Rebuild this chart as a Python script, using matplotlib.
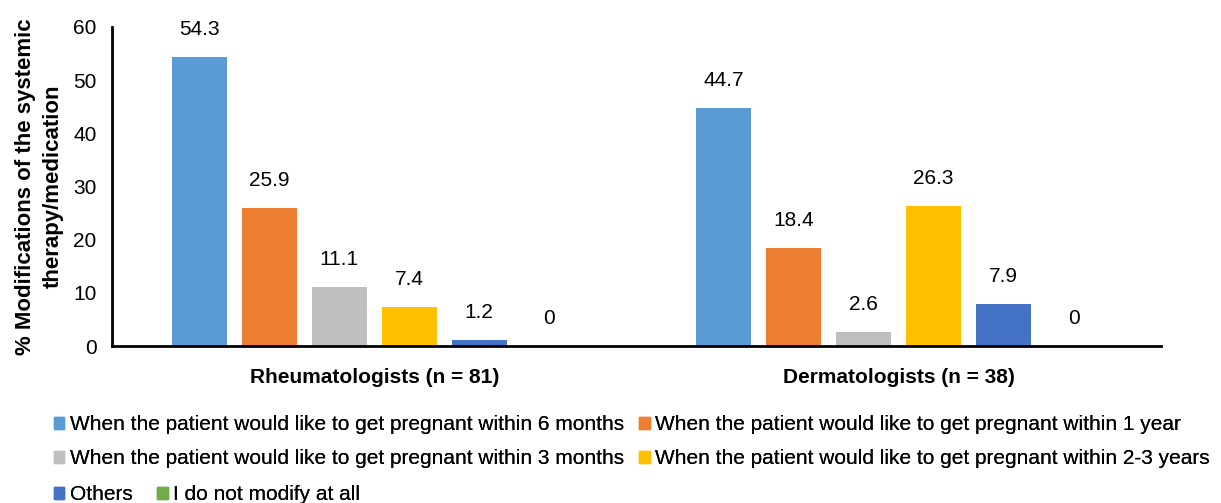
import numpy as np
import matplotlib
matplotlib.use('Agg')
import matplotlib.pyplot as plt
from matplotlib.patches import Patch

plt.rcParams['font.family'] = ['Liberation Sans', 'DejaVu Sans']

groups = ['Rheumatologists (n = 81)', 'Dermatologists (n = 38)']
series = ['When the patient would like to get pregnant within 6 months',
          'When the patient would like to get pregnant within 1 year',
          'When the patient would like to get pregnant within 3 months',
          'When the patient would like to get pregnant within 2-3 years',
          'Others',
          'I do not modify at all']
values = [[54.3, 44.7],
          [25.9, 18.4],
          [11.1, 2.6],
          [7.4, 26.3],
          [1.2, 7.9],
          [0, 0]]
colors = ['#5B9BD5', '#ED7D31', '#BFBFBF', '#FFC000', '#4472C4', '#70AD47']
yticks = [0, 10, 20, 30, 40, 50, 60]

FS = 15
fig = plt.figure(figsize=(12.21, 5.03), dpi=100)
ax = fig.add_axes([112/1221, 1-346/503, (1161-112)/1221, (346-27)/503])

x = np.arange(len(groups))
w = 55/524.5
pitch = 70/524.5
n = len(series)
for i in range(n):
    off = (i - (n-1)/2) * pitch
    bars = ax.bar(x + off, values[i], width=w, color=colors[i], label=series[i])
    for b, v in zip(bars, values[i]):
        ax.annotate('%g' % v, (b.get_x() + b.get_width()/2, v),
                    xytext=(0, 13), textcoords='offset points',
                    ha='center', va='bottom', fontsize=FS)

ax.set_xlim(-0.5, 1.5)
ax.set_ylim(0, 60)
ax.set_yticks(yticks)
ax.set_xticks(x)
ax.set_xticklabels(groups, fontsize=17, fontweight='bold')
ax.tick_params(axis='both', length=0, labelsize=FS)
ax.tick_params(axis='x', pad=16)
ax.tick_params(axis='y', pad=11)
for s in ['top', 'right']:
    ax.spines[s].set_visible(False)
for s in ['left', 'bottom']:
    ax.spines[s].set_linewidth(2)
ax.set_ylabel('% Modifications of the systemic\ntherapy/medication',
              fontsize=16, fontweight='bold', linespacing=1.4, labelpad=7)

h = [Patch(color=c) for c in colors]
# Excel-style flow legend: three rows placed one by one
rows = [([0, 1], 425, 0.75), ([2, 3], 459, 0.75), ([4, 5], 495, 1.2)]
for idx, yc, cs in rows:
    leg = fig.legend([h[k] for k in idx], [series[k] for k in idx],
                     ncol=2, loc='center left', bbox_to_anchor=(54/1221, 1-yc/503),
                     frameon=False, fontsize=FS, handlelength=0.5, handleheight=0.5,
                     handletextpad=0.25, columnspacing=cs,
                     borderpad=0, borderaxespad=0)
    fig.add_artist(leg)

fig.savefig('out.png', dpi=100)
